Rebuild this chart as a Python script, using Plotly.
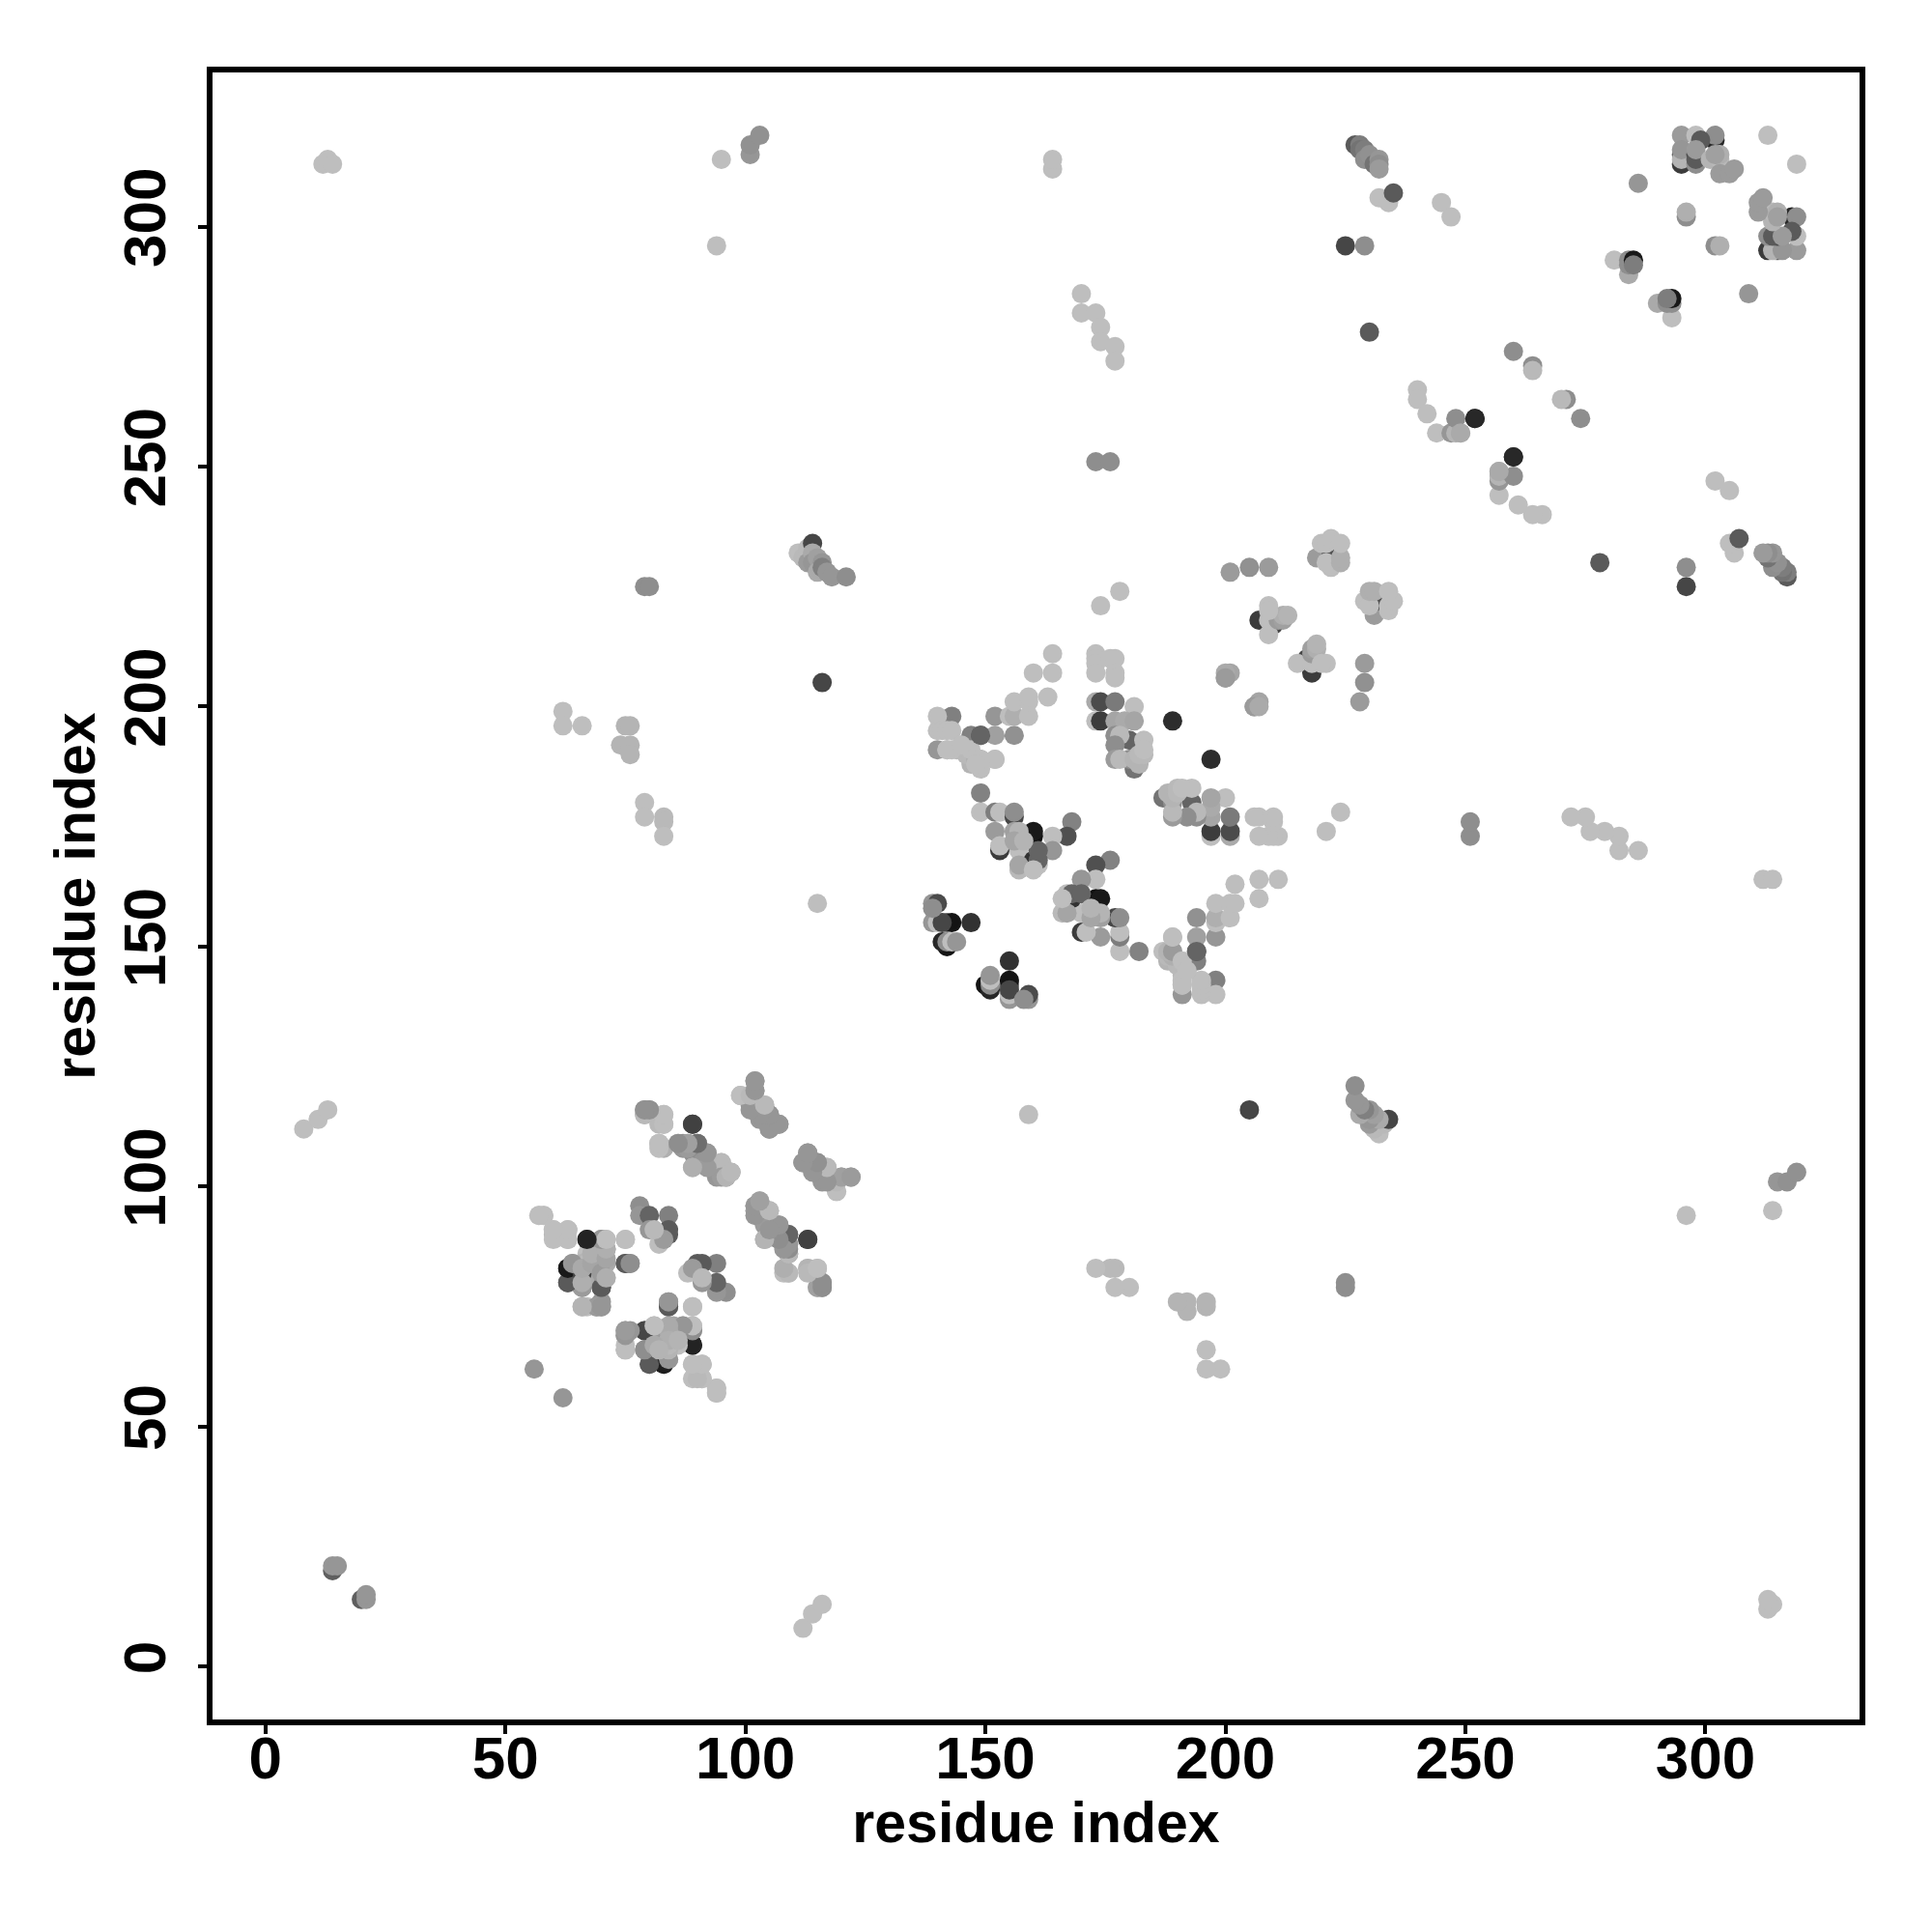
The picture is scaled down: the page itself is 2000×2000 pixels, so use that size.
import plotly.graph_objects as go

# contacts (residue i, residue j, shade); the map is symmetric so each pair is listed once
far_contacts = [
 (8,112,190),(11,114,190),(13,116,190),(12,313,190),(13,314,190),(14,313,190),(14,20,95),(14,21,150),(15,21,150),
 (56,62,150),(62,199,190),(62,196,190),(66,196,190),(75,196,180),(76,196,180),(74,192,180),(76,192,180),(76,190,180),
 (79,180,190),(79,177,190),(83,177,185),(83,176,185),(83,173,190),(79,225,142),(80,225,142),
 (94,296,190),(95,314,190),(101,315,150),(101,317,145),(103,319,145),(116,205,70),(115,159,190),
 (164,312,190),(164,314,190),(170,286,190),(170,282,190),(173,282,190),(174,279,190),(174,276,190),(177,275,190),(177,272,190),
 (173,251,142),(176,251,142),(174,221,190),(178,224,190),
]
n_domain_a = [
 (57,94,190),(58,94,190),(60,91,190),(60,90,185),(63,91,190),(63,89,190),(67,89,35),(70,89,142),(71,89,190),(75,89,190),
 (71,87,150),(67,86,190),(75,84,90),(76,84,150),(70,84,170),(63,83,30),(64,84,150),(66,84,180),(67,84,185),(71,84,170),(68,84,175),(68,86,180),
 (70,79,70),(63,80,90),(66,79,142),(67,81,170),(66,82,180),(71,81,190),(66,75,190),(67,75,190),(69,75,150),(70,76,150),(70,75,155),
 (79,70,90),(75,69,155),(75,70,150),(75,66,180),(79,66,155),(80,63,90),(83,63,25),(82,66,70),(80,66,175),(84,64,150),(83,66,170),(84,68,165),(86,68,175),(82,70,155),
 (81,71,175),(85,71,165),(87,71,175),(89,70,150),(89,71,190),(89,67,35),(89,63,190),(91,63,190),(89,60,190),(91,60,190),(94,58,190),(94,57,190),
 (84,75,90),(84,76,142),(89,75,190),
]
n_domain_b = [
 (78,96,142),(78,94,150),(80,94,100),(84,94,128),(84,90,90),(84,91,90),(80,91,150),(82,88,190),(83,89,155),(81,91,185),
 (79,115,160),(79,116,142),(80,116,142),(83,113,180),(82,113,185),(83,115,190),(89,113,65),
 (82,109,185),(83,108,175),(86,109,185),(87,109,142),(88,109,150),(90,109,100),(87,108,150),(89,107,142),(89,104,180),(92,107,150),(91,105,150),
 (94,102,150),(96,102,150),(95,105,185),(97,103,160),
 (99,119,190),(101,119,185),(102,120,160),(102,122,155),(101,117,150),(104,117,185),(103,114,150),(105,115,145),(105,112,150),(107,113,150),
 (105,95,185),(102,95,155),(102,96,180),(103,97,185),(104,92,155),(107,92,150),(104,89,175),(108,88,155),(109,90,110),(109,88,160),(109,86,142),(113,89,65),
 (108,82,190),(109,82,190),(113,83,190),(115,83,190),(115,79,185),(116,80,145),(116,79,145),
 (112,105,150),(113,107,150),(115,105,150),(115,103,150),(116,101,150),(117,104,185),(119,99,190),(119,101,185),(120,102,150),(122,102,150),
 (111,232,190),(112,231,185),(113,233,185),(114,234,70),(113,230,155),(114,232,170),(114,230,150),(115,231,160),(116,230,150),(115,228,170),(116,229,128),(117,228,150),(118,227,150),(121,227,142),
]
middle_top = [
 (164,211,190),(160,207,190),(164,207,190),(173,211,190),(173,210,190),(173,209,190),(176,210,190),(177,210,190),(173,207,190),(177,207,190),(177,206,190),
 (173,201,170),(174,201,75),(177,201,122),(181,200,190),(173,197,190),(174,197,60),(177,197,165),(179,197,170),(181,197,165),
 (177,194,142),(180,193,100),(178,194,185),(183,193,190),(177,192,142),(181,187,115),(177,189,155),(180,189,142),(178,189,185),(181,189,180),(182,188,180),(182,190,185),(183,190,185),(183,191,190),
 (189,197,45),
 (140,191,150),(143,198,128),(140,198,190),(140,195,190),(141,195,190),(142,195,190),(143,195,190),(142,191,190),(144,191,185),(145,192,185),
 (147,194,128),(149,194,90),(152,194,160),(156,194,145),(152,198,150),(155,198,190),(156,198,175),(156,201,190),(159,198,190),(159,201,190),(159,202,190),(163,202,190),
 (147,188,180),(148,188,185),(146,190,185),(147,190,185),(148,189,175),(149,188,180),(149,189,155),(152,189,190),
]
middle_core = [
 (149,182,130),(149,178,190),(152,178,125),(153,178,190),(156,177,70),(156,178,142),
 (168,176,130),(167,173,80),(164,173,190),(160,173,15),(160,174,25),(164,170,150),(152,174,155),(156,174,160),(157,174,180),
 (153,170,60),(153,171,190),(157,170,190),(160,168,50),(161,167,190),(161,168,100),(161,170,100),(157,166,185),(157,167,165),(160,166,190),(156,172,165),(158,172,180),
 (142,150,20),(141,151,40),(139,159,150),(140,159,75),(139,155,150),(140,155,190),(142,155,100),(143,155,20),(147,155,50),(142,151,142),(143,151,190),(144,151,150),(141,155,70),(139,158,142),
 (187,149,190),(189,149,190),(188,148,190),(147,191,190),(149,194,100),
 (143,191,190),(142,191,190),(145,192,190),(152,189,190),
]
c_domain = [
 (201,228,155),(205,229,145),(209,229,155),(208,218,60),(207,218,60),(210,217,70),(209,221,190),(209,215,190),(209,218,190),(211,218,155),(212,218,160),(212,219,175),(213,219,180),(209,220,190),
 (201,207,165),(200,206,155),(200,207,170),(206,200,155),
 (219,231,155),(222,232,80),(222,229,190),(221,230,190),(224,230,175),(224,231,175),(220,234,190),(221,234,190),(222,235,190),(224,234,190),
 (225,296,70),(229,296,142),(230,278,90),(227,317,90),(228,317,125),(228,316,115),(229,316,125),(229,314,142),(230,315,145),(231,313,115),(232,314,150),(232,313,142),(232,312,155),
 (232,306,190),(234,305,190),(235,307,90),(245,305,190),(247,302,190),
 (240,266,190),(240,264,190),(242,261,190),(244,257,190),(247,257,150),(248,257,180),(249,257,165),(248,260,142),(252,260,40),
 (252,260,40),(249,257,170),(260,274,142),(264,271,142),(264,270,185),
]
c_terminal = [
 (295,319,155),(298,319,190),(302,318,40),(302,319,142),(295,313,60),(295,315,90),(295,314,180),(295,316,150),(298,313,142),(298,315,70),(298,314,90),(299,318,90),(298,316,155),
 (301,314,180),(303,314,185),(303,315,175),(302,315,160),(303,311,155),(305,311,155),(306,312,155),(313,319,190),(286,309,150),
 (296,302,142),(296,303,175),(281,293,190),(284,290,170),(284,292,142),(284,293,142),(285,293,25),(285,292,125),
]

regions = [far_contacts, n_domain_a, n_domain_b, middle_top, middle_core, c_domain, c_terminal]
residue_i = [c[0] for r in regions for c in r]
residue_j = [c[1] for r in regions for c in r]
shade = [c[2] for r in regions for c in r]

tick_vals = [0, 50, 100, 150, 200, 250, 300]
axis_title = "residue index"

fig = go.Figure(go.Scatter(
    x=residue_i + residue_j,
    y=residue_j + residue_i,
    mode="markers",
    marker=dict(size=20, color=shade + shade, cmin=0, cmax=255,
                colorscale=[[0, "#000000"], [1, "#ffffff"]], line=dict(width=0), opacity=1),
    showlegend=False,
))

tick_font = dict(family="Liberation Sans", size=62, color="black", weight="bold")
title_font = dict(family="Liberation Sans", size=59, color="black", weight="bold")
axis = dict(tickmode="array", tickvals=tick_vals, ticks="outside", ticklen=9, tickwidth=4, tickcolor="black",
            showgrid=False, zeroline=False, showline=True, linewidth=6, linecolor="black", mirror=True,
            tickfont=tick_font)
fig.update_xaxes(axis, range=[-11, 332.1], title=dict(text=axis_title, font=title_font, standoff=0), ticklabelstandoff=-28)
fig.update_yaxes(axis, range=[-11, 332.1], tickangle=-90, title=dict(text=axis_title, font=title_font, standoff=0), ticklabelstandoff=9)
fig.update_layout(width=1984, height=1984, margin=dict(l=212, r=67, t=67, b=212, autoexpand=False),
                  plot_bgcolor="white", paper_bgcolor="white")
fig.write_html("out.html")
